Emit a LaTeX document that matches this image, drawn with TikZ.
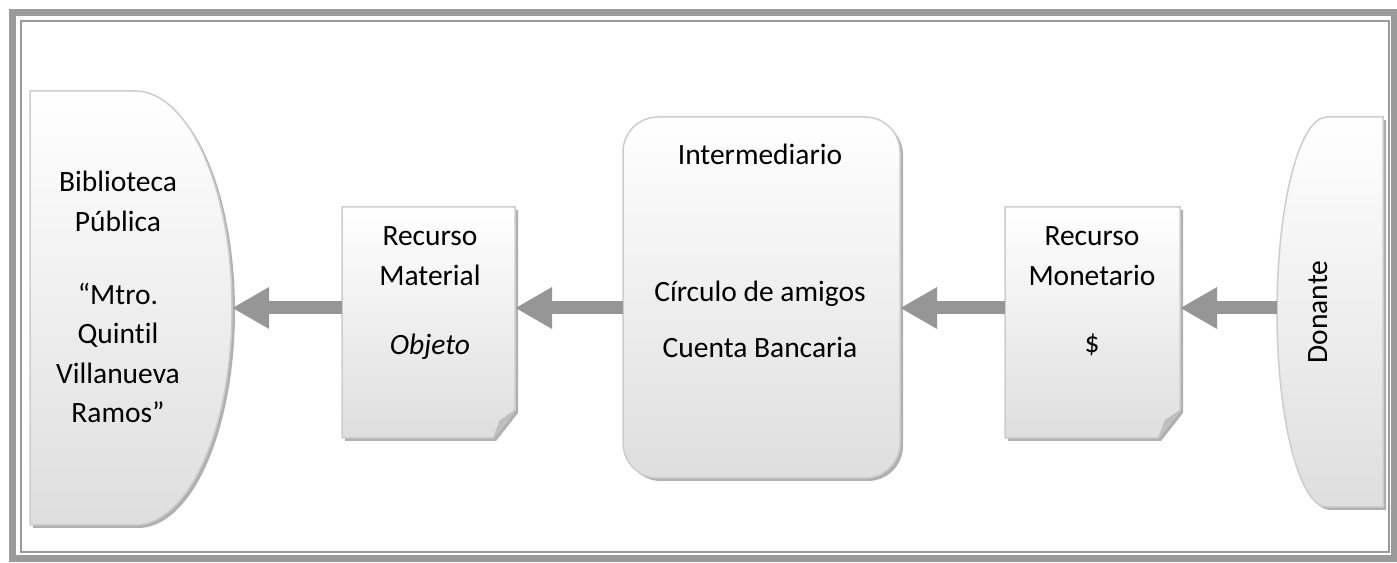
\documentclass[tikz,border=0pt]{standalone}
\usepackage{fontspec}
\setmainfont{Carlito}[Ligatures={NoCommon,NoContextual}]
\usetikzlibrary{arrows.meta}
\definecolor{framegray}{HTML}{9A9A9A}
\definecolor{edgegray}{HTML}{CDCDCD}
\definecolor{foldgray}{HTML}{BEBEBE}
\definecolor{shadowgray}{HTML}{B0B0B0}
\definecolor{shadebot}{HTML}{DEDEDE}
\definecolor{arrowgray}{HTML}{969696}
\begin{document}
\begin{tikzpicture}[x=1bp,y=1bp,
  shapebox/.style={draw=edgegray, line width=1.5bp, top color=white, bottom color=shadebot},
  shadowbox/.style={fill=shadowgray, draw=none},
  lbl/.style={anchor=base, inner sep=0, font=\fontsize{29.6}{36}\selectfont},
  flow/.style={draw=arrowgray, line width=13bp, -{Triangle[length=37bp,width=39bp]}},
  hold/.style={inner sep=0, outer sep=0, draw=none}]
\useasboundingbox (0,0) rectangle (1397,563);
% frame
\draw[framegray, line width=7bp] (12.5,4) rectangle (1394,550);
\draw[framegray, line width=2bp] (21,11) rectangle (1389,542);
% placeholders
\node[hold, minimum width=202bp, minimum height=434bp] (bib) at (131,255) {};
\node[hold, minimum width=173bp, minimum height=231bp] (mat) at (428.5,240.5) {};
\node[hold, minimum width=277bp, minimum height=361bp] (int) at (761.5,265.5) {};
\node[hold, minimum width=175bp, minimum height=231bp] (mon) at (1092.5,240.5) {};
\node[hold, minimum width=106bp, minimum height=390bp] (don) at (1330,251) {};
\coordinate (ay) at (0,255);
% shadows
\begin{scope}[shift={(3,-3)}]
\fill[shadowgray] (30,472) -- (135,472) arc[start angle=90,end angle=-90,x radius=97,y radius=217] -- (30,38) -- cycle;
\fill[shadowgray] (342,356) -- (515,356) -- (515,153) -- (493,125) -- (342,125) -- cycle;
\fill[shadowgray, rounded corners=35bp] (623,446) rectangle (900,85);
\fill[shadowgray] (1005,356) -- (1180,356) -- (1180,153) -- (1158,125) -- (1005,125) -- cycle;
\fill[shadowgray] (1383,446) -- (1327,446) arc[start angle=90,end angle=270,x radius=50,y radius=195] -- (1383,56) -- cycle;
\end{scope}
% shapes
\path[shapebox] (30,472) -- (135,472) arc[start angle=90,end angle=-90,x radius=97,y radius=217] -- (30,38) -- cycle;
\path[shapebox] (342,356) -- (515,356) -- (515,153) -- (493,125) -- (342,125) -- cycle;
\fill[foldgray] (515,153) -- (500,143) -- (493,125) -- cycle;
\path[shapebox, rounded corners=35bp] (623,446) rectangle (900,85);
\path[shapebox] (1005,356) -- (1180,356) -- (1180,153) -- (1158,125) -- (1005,125) -- cycle;
\fill[foldgray] (1180,153) -- (1165,143) -- (1158,125) -- cycle;
\path[shapebox] (1383,446) -- (1327,446) arc[start angle=90,end angle=270,x radius=50,y radius=195] -- (1383,56) -- cycle;
% texts
\node[lbl] (b1) at (118,371) {Biblioteca};
\node[lbl] (b2) at (118,331) {Pública};
\node[lbl] (b3) at (118,258) {“Mtro.};
\node[lbl] (b4) at (118,219) {Quintil};
\node[lbl] (b5) at (118,179) {Villanueva};
\node[lbl] (b6) at (118,140) {Ramos”};
\node[lbl] (m1) at (430,317) {Recurso};
\node[lbl] (m2) at (430,277) {Material};
\node[lbl] (m3) at (430,208) {\itshape Objeto};
\node[lbl] (i1) at (760,398) {Intermediario};
\node[lbl] (i2) at (760,261) {Círculo de amigos};
\node[lbl] (i3) at (760,205) {Cuenta Bancaria};
\node[lbl] (n1) at (1092,317) {Recurso};
\node[lbl] (n2) at (1092,277) {Monetario};
\node[lbl] (n3) at (1092,210) {\$};
\node[lbl, rotate=90] (d1) at (1327,251) {Donante};
% arrows
\draw[flow] (mat.west |- ay) -- (bib.east |- ay);
\draw[flow] (int.west |- ay) -- (mat.east |- ay);
\draw[flow] (mon.west |- ay) -- (int.east |- ay);
\draw[flow] (don.west |- ay) -- (mon.east |- ay);
\end{tikzpicture}
\end{document}
